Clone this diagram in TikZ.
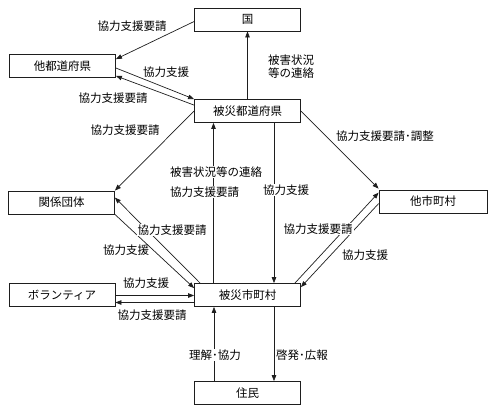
\documentclass[tikz,border=0pt]{standalone}
\usepackage{fontspec}
\setmainfont{Noto Sans CJK JP}
\usepackage{tikz}
\usetikzlibrary{arrows.meta,positioning}
\definecolor{ink}{HTML}{1E1E1E}

\begin{document}
\begin{tikzpicture}[x=1pt,y=-1pt,
  box/.style={draw=ink,line width=0.8pt,minimum width=106pt,minimum height=23pt,inner sep=0pt,font=\fontsize{11.5}{13}\selectfont},
  lbl/.style={font=\fontsize{11.5}{13}\selectfont,inner sep=1pt},
  wlbl/.style={lbl,fill=white},
  flow/.style={draw=ink,line width=0.7pt,-{Triangle[length=6pt,width=4.5pt]}}]
  \useasboundingbox (0,0) rectangle (498,413);
  % boxes
  \node[box] (kuni) at (247.5,19.5) {国};
  \node[box] (tato) at (62.5,66) {他都道府県};
  \node[box] (hisaiken) at (247.5,111) {被災都道府県};
  \node[box] (kankei) at (61.5,202.5) {関係団体};
  \node[box,minimum width=108pt] (tashi) at (433,201.5) {他市町村};
  \node[box] (vol) at (62,295) {ボランティア};
  \node[box] (hisaishi) at (247.5,295) {被災市町村};
  \node[box] (jumin) at (247.5,393) {住民};
  % prefecture level
  \draw[flow] ([yshift=-2pt]kuni.west) -- ([yshift=-5pt]tato.north east);
  \draw[flow] ([yshift=-2pt]tato.east) -- (hisaiken.north west);
  \draw[flow] ([yshift=-6pt]hisaiken.north west) -- ([yshift=2pt]tato.south east);
  \draw[flow] (hisaiken.north) -- (kuni.south);
  \draw[flow] (hisaiken.west) -- (kankei.north east);
  \draw[flow] (hisaiken.east) -- ([yshift=1pt]tashi.north west);
  \draw[flow] ([xshift=-34pt]hisaishi.north) -- ([xshift=-34pt]hisaiken.south);
  \draw[flow] ([xshift=26.5pt]hisaiken.south) -- ([xshift=26.5pt]hisaishi.north);
  % municipality level
  \draw[flow] ([xshift=6pt]hisaishi.north west) -- ([yshift=-7pt]kankei.north east);
  \draw[flow] (kankei.south east) -- ([yshift=-5pt]hisaishi.north west);
  \draw[flow] ([xshift=-6pt]hisaishi.north east) -- ([yshift=-3pt]tashi.north west);
  \draw[flow] ([yshift=-14pt]tashi.north west) -- ([yshift=-4pt]hisaishi.north east);
  \draw[flow] ([yshift=-0.5pt]vol.east) -- ([yshift=-0.5pt]hisaishi.west);
  \draw[flow] ([yshift=-7.5pt]hisaishi.west) -- ([yshift=-7.5pt]vol.east);
  \draw[flow] ([xshift=-33.5pt]jumin.north) -- ([xshift=-33.5pt]hisaishi.south);
  \draw[flow] ([xshift=26.5pt]hisaishi.south) -- ([xshift=26.5pt]jumin.north);
  % labels
  \node[lbl] (l1) at (132,26) {協力支援要請};
  \node[lbl] (l2) at (166,72) {協力支援};
  \node[lbl] (l3) at (113,98) {協力支援要請};
  \node[lbl,align=left] (l4) at (291,67) {被害状況\\等の連絡};
  \node[lbl] (l5) at (125,130) {協力支援要請};
  \node[lbl] (l6) at (385,136) {協力支援要請･調整};
  \node[wlbl,anchor=west] (l7) at (169,172) {被害状況等の連絡};
  \node[wlbl,anchor=west] (l8) at (169,192) {協力支援要請};
  \node[wlbl] (l9) at (286,190) {協力支援};
  \node[wlbl] (l10) at (172,230) {協力支援要請};
  \node[lbl] (l11) at (126,250) {協力支援};
  \node[wlbl] (l12) at (318,229) {協力支援要請};
  \node[lbl] (l13) at (365,255) {協力支援};
  \node[lbl] (l14) at (146,283) {協力支援};
  \node[lbl] (l15) at (152,315) {協力支援要請};
  \node[wlbl] (l16) at (215,355) {理解･協力};
  \node[lbl] (l17) at (302,355) {啓発･広報};
\end{tikzpicture}
\end{document}
